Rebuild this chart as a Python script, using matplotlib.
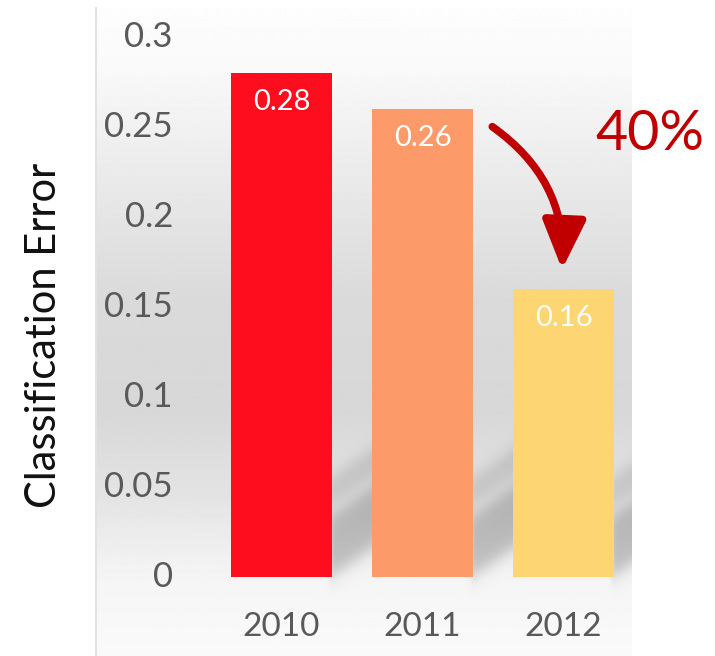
import numpy as np
import matplotlib
matplotlib.use("Agg")
import matplotlib.pyplot as plt
from matplotlib.patches import FancyArrowPatch

years = ["2010", "2011", "2012"]
errors = [0.28, 0.26, 0.16]
bar_colors = ["#fe0d1f", "#fd9a69", "#fdd572"]
yticks = [0, 0.05, 0.1, 0.15, 0.2, 0.25, 0.3]
ytick_labels = ["0", "0.05", "0.1", "0.15", "0.2", "0.25", "0.3"]
drop_label = "40%"

plt.rcParams["font.family"] = ["Lato", "DejaVu Sans"]

fig = plt.figure(figsize=(7.15, 6.56), dpi=100)
ax = fig.add_axes([95 / 715, 0, 537 / 715, 649 / 656])
xlim = (-1.323, 2.486)
ylim = (-0.0439, 0.3167)
ax.set_xlim(*xlim)
ax.set_ylim(*ylim)
ax.set_axis_off()

width = 0.716
x = np.arange(len(years))


def sig(t):
    return 1.0 / (1.0 + np.exp(-t))


# background: vertical gray gradient plus soft slanted floor shadows
gx = np.linspace(xlim[0], xlim[1], 540)
gy = np.linspace(ylim[1], ylim[0], 650)
X, Y = np.meshgrid(gx, gy)
stops_pos = [0.0, 0.10, 0.30, 0.45, 0.62, 0.75, 0.88, 1.0]
stops_val = [0.995, 0.975, 0.905, 0.855, 0.845, 0.89, 0.96, 0.98]
rows = np.linspace(0, 1, len(gy))
bg = np.interp(rows, stops_pos, stops_val)[:, None] * np.ones_like(X)

slope = 0.055
soft = 0.003
for xi in x:
    xr = xi + width / 2
    across = sig((X - xr + 0.01) / 0.01) * sig((xr + 0.45 - X) / 0.02)
    u = Y - slope * (X - xr)
    band_low = sig((u - 0.0) / soft) * sig((0.034 - u) / soft)
    band_high = sig((u - 0.040) / soft) * sig((0.055 - u) / soft)
    bg -= across * (0.2 * band_low + 0.12 * band_high)

ax.imshow(bg, cmap="gray", vmin=0, vmax=1, aspect="auto",
          extent=(*xlim, *ylim), zorder=0, interpolation="bilinear")

# thin left edge of the panel
ax.axvline(xlim[0] + 0.01, color="#e2e2e2", lw=1.5, zorder=1)

bars = ax.bar(x, errors, width=width, color=bar_colors, zorder=3)

for xi, val in zip(x, errors):
    ax.annotate(f"{val:.2f}", (xi, val), xytext=(0, -21),
                textcoords="offset points", ha="center", va="center",
                color="white", fontsize=21, zorder=4)

tick_x = -0.770
for yv, lab in zip(yticks, ytick_labels):
    ax.text(tick_x, yv, lab, ha="right", va="center", fontsize=25,
            color="#595959", zorder=4)

for xi, lab in zip(x, years):
    ax.text(xi, -0.0278, lab, ha="center", va="center", fontsize=24,
            color="#595959", zorder=4)

fig.text(44 / 715, 1 - 335 / 656, "Classification Error", rotation=90,
         ha="center", va="center", fontsize=30, color="#111111")

# curved arrow showing the drop from 2011 to 2012
arrow = FancyArrowPatch((1.479, 0.2511), (1.989, 0.1694),
                        connectionstyle="arc3,rad=-0.28",
                        arrowstyle="-|>,head_length=1.35,head_width=0.6",
                        mutation_scale=22, color="#c00000", lw=5.5,
                        zorder=5, clip_on=False)
ax.add_patch(arrow)
ax.text(2.613, 0.246, drop_label, ha="center", va="center", fontsize=40,
        color="#c00000", clip_on=False, zorder=5)

fig.savefig("out.png", dpi=100)
